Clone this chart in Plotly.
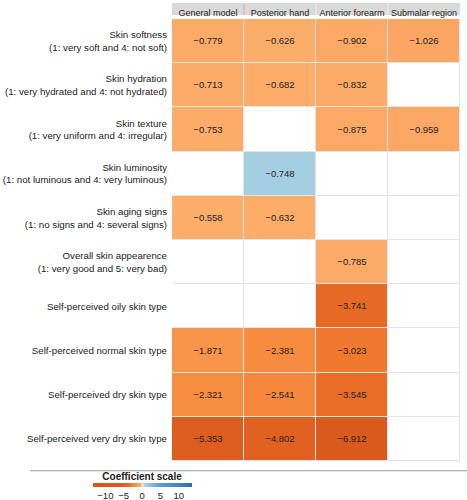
import plotly.graph_objects as go

# ---- data ----
regions = ["General model", "Posterior hand", "Anterior forearm", "Submalar region"]
row_labels = [
    "Skin softness<br>(1: very soft and 4: not soft)",
    "Skin hydration<br>(1: very hydrated and 4: not hydrated)",
    "Skin texture<br>(1: very uniform and 4: irregular)",
    "Skin luminosity<br>(1: not luminous and 4: very luminous)",
    "Skin aging signs<br>(1: no signs and 4: several signs)",
    "Overall skin appearence<br>(1: very good and 5: very bad)",
    "Self-perceived oily skin type",
    "Self-perceived normal skin type",
    "Self-perceived dry skin type",
    "Self-perceived very dry skin type",
]
general_model = [-0.779, -0.713, -0.753, None, -0.558, None, None, -1.871, -2.321, -5.353]
posterior_hand = [-0.626, -0.682, None, -0.748, -0.632, None, None, -2.381, -2.541, -4.802]
anterior_forearm = [-0.902, -0.832, -0.875, None, None, -0.785, -3.741, -3.023, -3.545, -6.912]
submalar_region = [-1.026, None, -0.959, None, None, None, None, None, None, None]
# sign used for colouring (the luminosity cell is shown in blue, i.e. positive direction)
colour_sign = [1, 1, 1, -1, 1, 1, 1, 1, 1, 1]
colorbar_ticks = [-10, -5, 0, 5, 10]
scale_min, scale_max = -13.5, 13.5

columns = [general_model, posterior_hand, anterior_forearm, submalar_region]

z_colour = []
text = []
for i in range(len(row_labels)):
    zr, tr = [], []
    for col in columns:
        v = col[i]
        if v is None:
            zr.append(None)
            tr.append("")
        else:
            zr.append(v * colour_sign[i])
            tr.append(f"{v:.3f}".replace("-", "\u2212"))
    z_colour.append(zr)
    text.append(tr)

# colour stops expressed in coefficient units, converted to [0, 1]
colour_stops = [
    (-13.5, "#d9541a"), (-6.9, "#da5a1b"), (-5.3, "#dd5d1e"), (-3.7, "#e66a26"),
    (-3.0, "#f07a30"), (-2.4, "#f78c40"), (-1.9, "#f99449"), (-1.0, "#fca764"),
    (-0.55, "#fdae6b"), (-0.3, "#fdc08e"), (0.0, "#f7f7f7"), (0.3, "#bcdaea"),
    (0.75, "#a6cee3"), (5.0, "#5b9bd0"), (13.5, "#2f6fb0"),
]
colorscale = [[(v - scale_min) / (scale_max - scale_min), c] for v, c in colour_stops]

fig = go.Figure()
# white background cells (gives light grey grid lines through gaps)
fig.add_trace(go.Heatmap(
    z=[[0] * len(regions) for _ in row_labels], x=regions, y=row_labels,
    colorscale=[[0, "white"], [1, "white"]], showscale=False, hoverinfo="skip",
    xgap=1, ygap=1,
))
fig.add_trace(go.Heatmap(
    z=z_colour, x=regions, y=row_labels, text=text, texttemplate="%{text}",
    textfont=dict(size=9.5, color="#222", family="Liberation Sans, Arial"),
    colorscale=colorscale, zmin=scale_min, zmax=scale_max, xgap=1, ygap=1,
    colorbar=dict(
        orientation="h",
        x=-0.104, xanchor="center", y=-0.025, yanchor="top",
        lenmode="pixels", len=99, thickness=4, outlinewidth=0,
        tickvals=colorbar_ticks, ticks="", ticklen=0,
        xpad=0, ypad=0,
        tickfont=dict(size=9.5, color="#222"),
        title=dict(text="<b>Coefficient scale</b>", side="top",
                   font=dict(size=10, color="#222")),
    ),
))

fig.update_layout(
    width=467, height=500,
    margin=dict(l=172, r=7, t=19, b=39, autoexpand=False),
    plot_bgcolor="#e4e4e4", paper_bgcolor="white",
    font=dict(family="Liberation Sans, Arial", color="#222"),
    xaxis=dict(side="top", showgrid=False, zeroline=False, ticks="", tickangle=0,
               automargin=False,
               tickfont=dict(size=9, color="#222"), range=[-0.5, 3.5]),
    yaxis=dict(autorange="reversed", showgrid=False, zeroline=False, ticks="",
               automargin=False,
               tickfont=dict(size=9.7, color="#222"), ticklabelstandoff=4),
    shapes=[
        dict(type="rect", xref="x", yref="paper", x0=-0.5, x1=3.5, y0=1.009, y1=1.036,
             fillcolor="#d9d9d9", line_width=0, layer="below"),
        dict(type="line", xref="x", yref="paper", x0=0.5, x1=0.5, y0=1.009, y1=1.036,
             line=dict(color="#b5b5b5", width=1)),
        dict(type="line", xref="x", yref="paper", x0=1.5, x1=1.5, y0=1.009, y1=1.036,
             line=dict(color="#f2f2f2", width=1)),
        dict(type="line", xref="x", yref="paper", x0=2.5, x1=2.5, y0=1.009, y1=1.036,
             line=dict(color="#f2f2f2", width=1)),
        dict(type="line", xref="paper", yref="paper", x0=-0.493, x1=1.03, y0=-0.022, y1=-0.022,
             line=dict(color="#9a9a9a", width=1)),
    ],
)

fig.write_html("out.html", config={"displayModeBar": False},
               post_script="document.body.style.margin='0';")
